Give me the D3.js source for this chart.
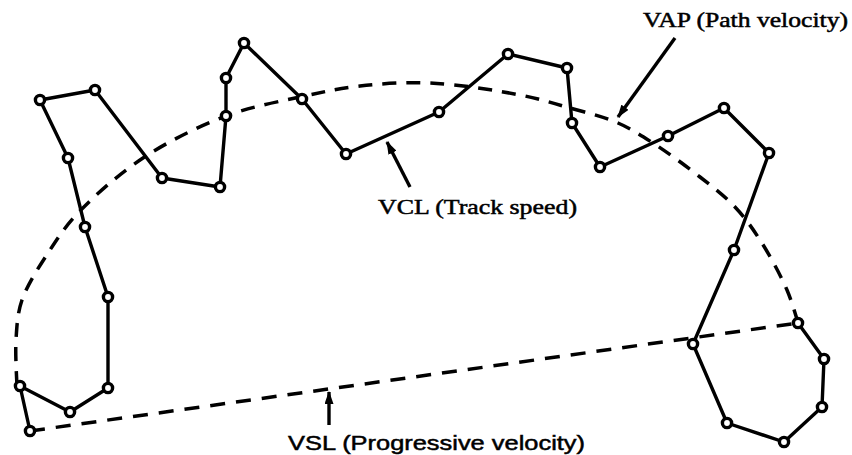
<!DOCTYPE html>
<html>
<head>
<meta charset="utf-8">
<script src="https://cdn.jsdelivr.net/npm/d3@7"></script>
<style>
  body { margin: 0; background: #fff; }
</style>
</head>
<body>
<div id="chart"></div>
<script>
// track points (VCL)
const trackX = [30, 20, 70, 108, 108, 85, 68, 40, 95, 162, 220, 226, 226, 244, 302, 346, 439, 508, 567, 572, 600, 668, 724, 769, 734, 693, 727, 784, 822, 824, 798];
const trackY = [431, 386, 412, 388, 297, 227, 158, 100, 90, 178, 187, 116, 78, 43, 99, 154, 112, 54, 68, 123, 167, 136, 108, 153, 250, 344, 423, 442, 407, 359, 323];

// smoothed path (VAP)
const vapX = [17, 16, 22, 50, 78, 143, 226, 300, 360, 430, 520, 570, 618, 653, 700, 735, 760, 787, 798];
const vapY = [385, 340, 300, 250, 213, 158, 116, 97, 86, 83, 95, 108, 123, 143, 177, 207, 240, 290, 323];

// straight line (VSL)
const vslX = [30, 798];
const vslY = [431, 323];

const labels = ['VAP (Path velocity)', 'VCL (Track speed)', 'VSL (Progressive velocity)'];

const svgWidth = 852
const svgHeight = 455

const x = d3.scaleLinear().domain([0, 852]).range([0, svgWidth]);
const y = d3.scaleLinear().domain([0, 455]).range([0, svgHeight]);

let svg = d3.select('#chart').append('svg')
    .attr('width', svgWidth)
    .attr('height', svgHeight)

svg.append('defs').append('marker')
    .attr('id', 'head')
    .attr('viewBox', '0 0 13 9')
    .attr('refX', 12).attr('refY', 4.5)
    .attr('markerWidth', 13).attr('markerHeight', 9)
    .attr('markerUnits', 'userSpaceOnUse')
    .attr('orient', 'auto')
    .append('path')
    .attr('d', 'M0,0 L13,4.5 L0,9 Z')
    .attr('fill', '#000')

const pts = (xs, ys) => xs.map((d, i) => [x(d), y(ys[i])]);

// VAP dashed curve
svg.append('path')
    .attr('d', d3.line().curve(d3.curveCatmullRom)(pts(vapX, vapY)))
    .attr('fill', 'none')
    .attr('stroke', '#000')
    .attr('stroke-width', 3.5)
    .attr('stroke-dasharray', '14,10')

// VSL dashed line
svg.append('path')
    .attr('d', d3.line()(pts(vslX, vslY)))
    .attr('fill', 'none')
    .attr('stroke', '#000')
    .attr('stroke-width', 3.5)
    .attr('stroke-dasharray', '15,11')

// VCL track
svg.append('path')
    .attr('d', d3.line()(pts(trackX, trackY)))
    .attr('fill', 'none')
    .attr('stroke', '#000')
    .attr('stroke-width', 3.4)
    .attr('stroke-linejoin', 'round')

svg.selectAll('circle.pt').data(pts(trackX, trackY)).enter()
    .append('circle')
    .attr('class', 'pt')
    .attr('cx', d => d[0])
    .attr('cy', d => d[1])
    .attr('r', 4.6)
    .attr('fill', '#fff')
    .attr('stroke', '#000')
    .attr('stroke-width', 3.4)

// arrows: [fromX, fromY, toX, toY]
const arrows = [[675, 38, 618, 117], [410, 187, 387, 142], [329, 425, 329, 392]];
svg.selectAll('line.arrow').data(arrows).enter()
    .append('line')
    .attr('class', 'arrow')
    .attr('x1', d => x(d[0])).attr('y1', d => y(d[1]))
    .attr('x2', d => x(d[2])).attr('y2', d => y(d[3]))
    .attr('stroke', '#000')
    .attr('stroke-width', 3.4)
    .attr('marker-end', 'url(#head)')

const labelPos = [[643, 27], [378, 214], [288, 450]];
const labelFont = ['Liberation Serif', 'Liberation Serif', 'Liberation Sans'];
const labelLen = [205, 199, 297];
svg.selectAll('text.lab').data(labels).enter()
    .append('text')
    .attr('class', 'lab')
    .attr('x', (d, i) => x(labelPos[i][0]))
    .attr('y', (d, i) => y(labelPos[i][1]))
    .attr('font-family', (d, i) => labelFont[i])
    .attr('font-size', 21)
    .attr('fill', '#000')
    .attr('stroke', '#000')
    .attr('stroke-width', 0.5)
    .attr('textLength', (d, i) => labelLen[i])
    .attr('lengthAdjust', 'spacingAndGlyphs')
    .text(d => d)
</script>
</body>
</html>
